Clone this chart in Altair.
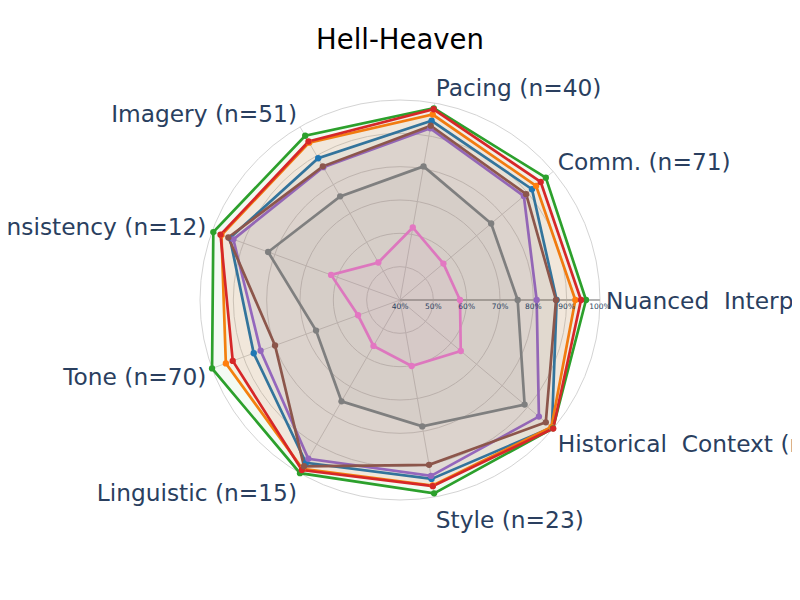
import altair as alt
import pandas as pd

# ---------------- data ----------------
title_text = "Hell-Heaven"
categories = [
    "Nuanced\u00a0 Interp. (n=58)",
    "Comm. (n=71)",
    "Pacing (n=40)",
    "Imagery (n=51)",
    "Consistency (n=12)",
    "Tone (n=70)",
    "Linguistic (n=15)",
    "Style (n=23)",
    "Historical\u00a0 Context (n=31)",
]
angles = [0, 40, 80, 120, 160, 200, 240, 280, 320]

series_names = ["Model 1", "Model 2", "Model 3", "Model 4",
                "Model 5", "Model 6", "Model 7", "Model 8"]
series_colors = ["#1f77b4", "#ff7f0e", "#2ca02c", "#d62728",
                 "#9467bd", "#8c564b", "#e377c2", "#7f7f7f"]

model1 = [87.0, 91.7, 94.6, 89.1, 94.3, 86.7, 96.4, 94.5, 99.5]
model2 = [92.6, 93.3, 96.5, 94.5, 97.0, 95.6, 98.5, 96.5, 99.3]
model3 = [95.8, 97.1, 98.4, 96.9, 99.6, 100.0, 100.0, 98.9, 99.9]
model4 = [94.3, 95.1, 98.1, 94.9, 97.3, 93.4, 98.9, 96.7, 100.0]
model5 = [81.0, 88.5, 92.3, 86.0, 93.2, 84.5, 95.0, 93.6, 94.4]
model6 = [86.8, 89.4, 93.1, 86.3, 94.8, 79.9, 97.6, 90.2, 97.1]
model7 = [58.0, 57.0, 62.1, 53.0, 62.0, 53.4, 55.9, 60.1, 63.8]
model8 = [75.3, 75.7, 80.7, 75.9, 82.1, 66.8, 75.1, 78.5, 88.8]

tick_values = [40, 50, 60, 70, 80, 90, 100]
tick_labels = ["40%", "50%", "60%", "70%", "80%", "90%", "100%"]

# ---------------- tables ----------------
all_vals = [model1, model2, model3, model4, model5, model6, model7, model8]
rows = []
for name, vals in zip(series_names, all_vals):
    cats = categories + categories[:1]
    angs = angles + angles[:1]
    vv = vals + vals[:1]
    for i, (c, a, v) in enumerate(zip(cats, angs, vv)):
        rows.append(dict(series=name, category=c, angle=a, value=v, order=i))
df = pd.DataFrame(rows)

df_cat = pd.DataFrame(dict(category=categories, angle=angles))
df_ticks = pd.DataFrame(dict(tick=tick_values, label=tick_labels))
df_rings = df_ticks[df_ticks.tick > 40]

RMIN, RMAX = 40, 100
RPX = 200.0  # pixel radius of the 100% ring
W, H = 784, 584
CX, CY = 392, 292

xs = alt.Scale(domain=[-CX / RPX, (W - CX) / RPX], nice=False, zero=False)
ys = alt.Scale(domain=[-(H - CY) / RPX, CY / RPX], nice=False, zero=False)
X = lambda f: alt.X(f, type="quantitative", scale=xs, axis=None)
Y = lambda f: alt.Y(f, type="quantitative", scale=ys, axis=None)

cscale = alt.Scale(domain=series_names, range=series_colors)

rad = f"(datum.value - {RMIN}) / ({RMAX} - {RMIN})"

# rings
rings = alt.Chart(df_rings).transform_calculate(
    x0="0", y0="0",
    sz=f"pow(2 * {RPX} * (datum.tick - {RMIN}) / ({RMAX} - {RMIN}), 2)",
).mark_point(shape="circle", filled=False, color="#d4d4d4", strokeWidth=1, opacity=1).encode(
    x=X("x0"), y=Y("y0"), size=alt.Size("sz:Q", scale=None, legend=None)
)

# spokes
spokes = alt.Chart(df_cat).transform_calculate(
    x0="0", y0="0",
    x1="cos(datum.angle * PI / 180)",
    y1="sin(datum.angle * PI / 180)",
).mark_rule(color="#d4d4d4", strokeWidth=1).encode(
    x=X("x0"), y=Y("y0"), x2="x1:Q", y2="y1:Q"
)

# radial axis line
raxis = alt.Chart(df_ticks[df_ticks.tick == RMAX]).transform_calculate(
    x0="0", y0="0", x1=f"(datum.tick - {RMIN}) / ({RMAX} - {RMIN})"
).mark_rule(color="#b3b3b3", strokeWidth=2).encode(
    x=X("x0"), y=Y("y0"), x2="x1:Q", y2="y0:Q"
)

base = alt.Chart(df).transform_calculate(
    r=rad,
).transform_calculate(
    x="datum.r * cos(datum.angle * PI / 180)",
    y="datum.r * sin(datum.angle * PI / 180)",
)

lines = base.mark_line(strokeWidth=2.7, fillOpacity=0.055, strokeJoin="miter").encode(
    x=X("x"), y=Y("y"),
    color=alt.Color("series:N", scale=cscale, legend=None),
    fill=alt.Fill("series:N", scale=cscale, legend=None),
    order="order:Q",
)

points = base.transform_filter("datum.order < 9").mark_point(
    filled=True, size=40, opacity=1
).encode(
    x=X("x"), y=Y("y"),
    color=alt.Color("series:N", scale=cscale, legend=None),
)

tick_text = alt.Chart(df_ticks).transform_calculate(
    x=f"(datum.tick - {RMIN}) / ({RMAX} - {RMIN})", y0="0"
).mark_text(fontSize=7.5, font="DejaVu Sans", color="#2a3f5f", dy=7, align="center",
            baseline="middle").encode(
    x=X("x"), y=Y("y0"), text="label:N"
)

lab_base = alt.Chart(df_cat).transform_calculate(
    c="cos(datum.angle * PI / 180)",
    s="sin(datum.angle * PI / 180)",
).transform_calculate(
    x=f"datum.c * 206 / {RPX}",
    y=f"datum.s * (datum.s > 0 ? 216 : 222) / {RPX}",
)
lab_right = lab_base.transform_filter("datum.c > 0").mark_text(
    fontSize=23.3, font="DejaVu Sans", color="#2a3f5f", align="left", baseline="middle", dy=2
).encode(x=X("x"), y=Y("y"), text="category:N")
lab_left = lab_base.transform_filter("datum.c < 0").mark_text(
    fontSize=23.3, font="DejaVu Sans", color="#2a3f5f", align="right", baseline="middle", dy=2
).encode(x=X("x"), y=Y("y"), text="category:N")

title = alt.Chart(pd.DataFrame(dict(t=[title_text]))).mark_text(
    fontSize=27.5, font="DejaVu Sans", color="#000000", align="center", baseline="middle"
).encode(x=alt.value(CX), y=alt.value(33), text="t:N")

chart = alt.layer(
    rings, spokes, raxis, lines, points, tick_text, lab_right, lab_left, title
).properties(
    width=W, height=H, padding=0,
    autosize=alt.AutoSizeParams(type="none"),
    background="white",
).configure_view(stroke=None)

chart.save("out.html", embed_options={"renderer": "svg", "actions": False})
